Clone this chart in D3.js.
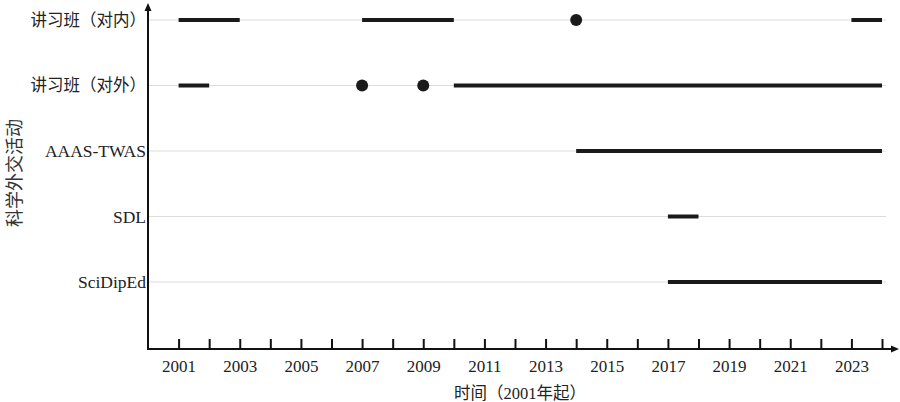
<!DOCTYPE html>
<html lang="zh">
<head>
<meta charset="UTF-8"/>
<title>科学外交活动时间线</title>
<script src="https://d3js.org/d3.v7.min.js"></script>
<style>
  body { margin:0; background:#fff; }
  text { font-family:"Liberation Serif","Noto Sans CJK SC",serif; fill:#222; }
</style>
</head>
<body>
<script>
var w = 900, h = 402;

// activity rows, top to bottom
var categories = ["讲习班（对内）","讲习班（对外）","AAAS-TWAS","SDL","SciDipEd"];

// continuous periods: row, start year, end year
var segCategory = ["讲习班（对内）","讲习班（对内）","讲习班（对内）","讲习班（对外）","讲习班（对外）","AAAS-TWAS","SDL","SciDipEd"];
var segStart    = [2001, 2007, 2023, 2001, 2010, 2014, 2017, 2017];
var segEnd      = [2003, 2010, 2024, 2002, 2024, 2024, 2018, 2024];

// single-year events
var dotCategory = ["讲习班（对内）","讲习班（对外）","讲习班（对外）"];
var dotYear     = [2014, 2007, 2009];

var tickYears  = d3.range(2001, 2025);
var tickLabels = [2001,2003,2005,2007,2009,2011,2013,2015,2017,2019,2021,2023];

var x0 = 148, yBase = 349;

var xScale = d3.scaleLinear().domain([2000, 2024]).range([x0, 882]);
var yScale = d3.scalePoint().domain(categories).range([20, 282]);

var svg = d3.select("body").append("svg")
            .attr("width", w).attr("height", h);

// gridlines
svg.selectAll(".grid")
   .data(categories)
   .enter()
   .append("line")
   .attr("x1", x0).attr("x2", 886)
   .attr("y1", function(d){ return yScale(d); })
   .attr("y2", function(d){ return yScale(d); })
   .attr("stroke", "#dcdcdc").attr("stroke-width", 1);

// category labels (latin ones a bit larger, like the original)
svg.selectAll(".cat")
   .data(categories)
   .enter()
   .append("text")
   .attr("x", 146)
   .attr("y", function(d){ return yScale(d); })
   .attr("dy", "0.36em")
   .attr("text-anchor", "end")
   .style("font-size", function(d){ return /^[A-Za-z]/.test(d) ? "17.5px" : "16.5px"; })
   .text(function(d){ return d; });

// x axis with inward ticks
var xAxis = d3.axisBottom(xScale)
              .tickValues(tickYears)
              .tickSize(-10)
              .tickPadding(11)
              .tickFormat(function(d){ return tickLabels.indexOf(d) >= 0 ? d : ""; });

var gx = svg.append("g")
            .attr("transform", "translate(0," + yBase + ")")
            .call(xAxis);
gx.select(".domain").remove();
gx.selectAll(".tick line").attr("stroke", "#111").attr("stroke-width", 2);
gx.selectAll(".tick text")
  .style("font-size", "17px")
  .style("font-family", "Liberation Serif")
  .attr("fill", "#222");

// axis lines + arrows
svg.append("line")
   .attr("x1", x0).attr("x2", 893).attr("y1", yBase).attr("y2", yBase)
   .attr("stroke", "#111").attr("stroke-width", 2);
svg.append("path")
   .attr("d", "M899," + yBase + " L891," + (yBase - 3.5) + " L891," + (yBase + 3.5) + "Z")
   .attr("fill", "#111");
svg.append("line")
   .attr("x1", x0).attr("x2", x0).attr("y1", 10).attr("y2", yBase + 1)
   .attr("stroke", "#111").attr("stroke-width", 2);
svg.append("path")
   .attr("d", "M" + x0 + ",3 L" + (x0 - 3.5) + ",11 L" + (x0 + 3.5) + ",11Z")
   .attr("fill", "#111");

// period bars
svg.selectAll(".seg")
   .data(segStart)
   .enter()
   .append("line")
   .attr("x1", function(d){ return xScale(d); })
   .attr("x2", function(d,i){ return xScale(segEnd[i]); })
   .attr("y1", function(d,i){ return yScale(segCategory[i]); })
   .attr("y2", function(d,i){ return yScale(segCategory[i]); })
   .attr("stroke", "#1a1a1a").attr("stroke-width", 4);

// events
svg.selectAll(".dot")
   .data(dotYear)
   .enter()
   .append("circle")
   .attr("cx", function(d){ return xScale(d); })
   .attr("cy", function(d,i){ return yScale(dotCategory[i]); })
   .attr("r", 6)
   .attr("fill", "#1a1a1a");

// axis titles
svg.append("text")
   .attr("transform", "translate(21,173) rotate(-90)")
   .attr("text-anchor", "middle")
   .style("font-size", "18px")
   .style("font-family", "Noto Sans CJK SC")
   .style("fill", "#333")
   .text("科学外交活动");

svg.append("text")
   .attr("x", 520).attr("y", 399)
   .attr("text-anchor", "middle")
   .style("font-size", "16.5px")
   .text("时间（2001年起）");
</script>
</body>
</html>
